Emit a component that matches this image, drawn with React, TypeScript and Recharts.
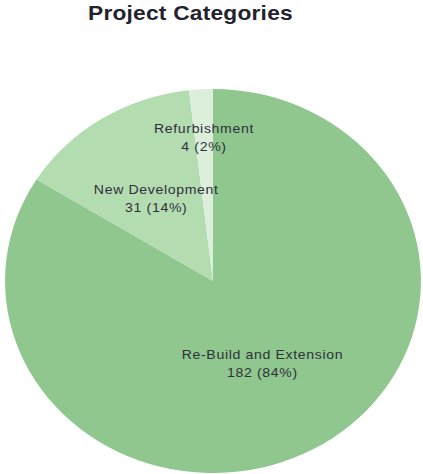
import { PieChart, Pie, Cell } from 'recharts'

const categories = ['Re-Build and Extension', 'New Development', 'Refurbishment']
const counts = [182, 31, 4]
const percents = [84, 14, 2]

const sliceColors = ['#8fc78e', '#b4dcb1', '#dcefda']
// how far out (fraction of radius) each label sits
const labelRadius = [0.49, 0.51, 0.75]

const STRETCH = 1.083

const chartData = categories.map((name, i) => ({
  name,
  value: counts[i],
  pct: percents[i],
}))

function renderLabel(props: any) {
  const { cx, cy, midAngle, outerRadius, index } = props
  const RAD = Math.PI / 180
  const r = outerRadius * labelRadius[index]
  const x = cx + Math.cos(-midAngle * RAD) * r
  const y = cy + Math.sin(-midAngle * RAD) * r
  const d = chartData[index]
  return (
    <text
      x={x}
      y={y}
      textAnchor="middle"
      fill="#30303c"
      fontSize={13}
      letterSpacing={0.6}
      fontFamily="'Liberation Sans', Arial, sans-serif"
    >
      <tspan x={x} dy={-4}>{d.name}</tspan>
      <tspan x={x} dy={18}>{`${d.value} (${d.pct}%)`}</tspan>
    </text>
  )
}

export default function App() {
  return (
    <div
      style={{
        position: 'absolute',
        left: 0,
        top: 0,
        width: 423,
        height: 474,
        background: '#fff',
        overflow: 'hidden',
      }}
    >
      <div
        style={{
          position: 'absolute',
          left: 88,
          top: 1,
          fontFamily: "'Liberation Sans', Arial, sans-serif",
          fontWeight: 'bold',
          fontSize: 21,
          letterSpacing: 0.2,
          color: '#23232e',
          whiteSpace: 'nowrap',
          transform: `scaleX(${STRETCH})`,
          transformOrigin: 'left center',
        }}
      >
        Project Categories
      </div>
      <div
        style={{
          position: 'absolute',
          left: 21,
          top: 89,
          transform: `scaleX(${STRETCH})`,
          transformOrigin: 'center center',
        }}
      >
        <PieChart width={384} height={384} margin={{ top: 0, right: 0, bottom: 0, left: 0 }}>
          <Pie
            data={chartData}
            dataKey="value"
            nameKey="name"
            cx={192}
            cy={192}
            outerRadius={192}
            startAngle={90}
            endAngle={-270}
            stroke="none"
            label={renderLabel}
            labelLine={false}
            isAnimationActive={false}
          >
            {chartData.map((d, i) => (
              <Cell key={d.name} fill={sliceColors[i]} />
            ))}
          </Pie>
        </PieChart>
      </div>
    </div>
  )
}
